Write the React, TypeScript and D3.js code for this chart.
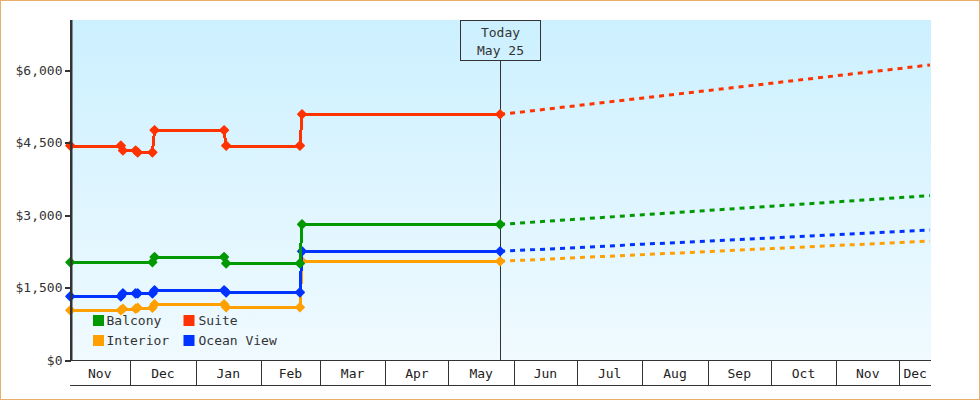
import React from 'react';
import * as d3 from 'd3';

const width = 980;
const height = 400;

const suiteDates = ['2018-11-02', '2018-11-26', '2018-11-27', '2018-12-03', '2018-12-04', '2018-12-11', '2018-12-12', '2019-01-14', '2019-01-15', '2019-02-19', '2019-02-20', '2019-05-25'];
const balconyDates = ['2018-11-02', '2018-12-11', '2018-12-12', '2019-01-14', '2019-01-15', '2019-02-19', '2019-02-20', '2019-05-25'];
const forecastDates = ['2019-05-25', '2019-06-01', '2019-07-01', '2019-08-01', '2019-09-01', '2019-10-01', '2019-11-01', '2019-12-01', '2019-12-15'];

const suiteValues = [4450, 4450, 4350, 4350, 4310, 4310, 4770, 4770, 4450, 4450, 5100, 5100];
const balconyValues = [2036, 2036, 2146, 2146, 2015, 2015, 2822, 2822];
const oceanValues = [1332, 1332, 1394, 1394, 1394, 1394, 1457, 1457, 1415, 1415, 2264, 2264];
const interiorValues = [1043, 1043, 1076, 1076, 1095, 1095, 1167, 1167, 1105, 1105, 2057, 2057];

const suiteForecast = [5100, 5130, 5281, 5437, 5592, 5743, 5899, 6048, 6120];
const balconyForecast = [2822, 2841, 2930, 3021, 3110, 3197, 3288, 3375, 3416];
const oceanForecast = [2264, 2278, 2342, 2411, 2477, 2541, 2608, 2674, 2705];
const interiorForecast = [2057, 2071, 2133, 2195, 2259, 2321, 2385, 2445, 2477];

const yTicks = [0, 1500, 3000, 4500, 6000];
const startDate = '2018-11-02';
const endDate = '2019-12-16';
const todayDate = '2019-05-25';

const font = '"DejaVu Sans Mono", monospace';
const ink = '#333333';

// axis edges sit on midnight, the marks on the middle of their day
const parseDay = (s: string) => new Date(`${s}T00:00:00Z`);
const parseMark = (s: string) => new Date(`${s}T12:00:00Z`);

const x = d3.scaleUtc().domain([parseDay(startDate), parseDay(endDate)]).range([69.2, 931]);
const y = d3.scaleLinear().domain([0, 7050]).range([360.7, 20]);

const dollars = (v: number) => (v === 0 ? '$0' : d3.format('$,')(v));

// drawn bottom to top, same order as the overlaps in the picture
const series = [
  { name: 'Interior', color: '#ffa000', dates: suiteDates, values: interiorValues, forecast: interiorForecast },
  { name: 'Ocean View', color: '#0033ff', dates: suiteDates, values: oceanValues, forecast: oceanForecast },
  { name: 'Balcony', color: '#009900', dates: balconyDates, values: balconyValues, forecast: balconyForecast },
  { name: 'Suite', color: '#ff3300', dates: suiteDates, values: suiteValues, forecast: suiteForecast },
];

const legendRows = [
  { name: 'Balcony', col: 0, row: 0 },
  { name: 'Suite', col: 1, row: 0 },
  { name: 'Interior', col: 0, row: 1 },
  { name: 'Ocean View', col: 1, row: 1 },
];

const stepLine = d3
  .line<[string, number]>()
  .x((d) => x(parseMark(d[0])))
  .y((d) => Math.round(y(d[1])) + 0.5);

const dashLine = d3
  .line<[string, number]>()
  .x((d) => x(parseMark(d[0])))
  .y((d) => y(d[1]));

const marker = d3.symbol().type(d3.symbolSquare).size(36)() as string;

const monthStarts = d3.utcMonth.range(parseDay(startDate), parseDay(endDate));
const monthEdges = [parseDay(startDate), ...monthStarts, parseDay(endDate)];

export default function App() {
  const todayX = Math.floor(x(parseMark(todayDate))) + 0.5;

  return (
    <svg
      width={width}
      height={height}
      style={{ position: 'absolute', left: 0, top: 0, background: '#fff' }}
      fontFamily={font}
      fontSize={13}
    >
      <defs>
        <linearGradient id="plotBg" x1="0" y1="0" x2="0" y2="1">
          <stop offset="0" stopColor="#ccf0ff" />
          <stop offset="1" stopColor="#f0faff" />
        </linearGradient>
      </defs>

      <rect x={0.5} y={0.5} width={979} height={399} fill="none" stroke="#e9ad6c" />
      <rect x={72} y={20} width={859} height={340} fill="url(#plotBg)" />

      {/* today marker */}
      <rect x={todayX - 40} y={20.5} width={80} height={40} fill="none" stroke={ink} shapeRendering="crispEdges" />
      <line x1={todayX} x2={todayX} y1={60} y2={360} stroke={ink} shapeRendering="crispEdges" />
      <text x={todayX} y={36.5} textAnchor="middle" fill={ink}>Today</text>
      <text x={todayX} y={55} textAnchor="middle" fill={ink}>May 25</text>

      {/* series */}
      {series.map((s) => (
        <g key={s.name}>
          <path
            d={dashLine(s.forecast.map((v, i) => [forecastDates[i], v] as [string, number])) as string}
            fill="none"
            stroke={s.color}
            strokeWidth={3}
            strokeDasharray="5,5"
          />
          <path
            d={stepLine(s.values.map((v, i) => [s.dates[i], v] as [string, number])) as string}
            fill="none"
            stroke={s.color}
            strokeWidth={3}
            shapeRendering="crispEdges"
          />
          {s.values.map((v, i) => (
            <path
              key={s.dates[i]}
              d={marker}
              transform={`translate(${x(parseMark(s.dates[i]))},${y(v)}) rotate(45)`}
              fill={s.color}
              stroke={s.color}
              strokeWidth={1.6}
              strokeLinejoin="round"
            />
          ))}
        </g>
      ))}

      {/* y axis */}
      <rect x={70} y={20} width={2.5} height={341} fill={ink} />
      {yTicks.map((t) => (
        <g key={t}>
          <rect x={65} y={Math.round(y(t)) - 1} width={6} height={2} fill={ink} />
          <text x={62.5} y={Math.round(y(t)) + 4} textAnchor="end" fill={ink}>{dollars(t)}</text>
        </g>
      ))}

      {/* month band */}
      <line x1={70} x2={931} y1={360.5} y2={360.5} stroke={ink} shapeRendering="crispEdges" />
      <line x1={70} x2={931} y1={385.5} y2={385.5} stroke={ink} shapeRendering="crispEdges" />
      {monthEdges.slice(0, -1).map((d, i) => {
        const x0 = x(d);
        const x1 = x(monthEdges[i + 1]);
        const edge = Math.floor(x0 + 0.38) + 0.5;
        return (
          <g key={d.toISOString()}>
            {i > 0 && <line x1={edge} x2={edge} y1={361} y2={385} stroke={ink} shapeRendering="crispEdges" />}
            <text x={(x0 + x1) / 2} y={378} textAnchor="middle" fill="#222">{d3.utcFormat('%b')(d)}</text>
          </g>
        );
      })}

      {/* legend */}
      {legendRows.map((l) => {
        const color = series.find((s) => s.name === l.name)?.color;
        const lx = 93 + l.col * 90.5;
        const ly = 315 + l.row * 20;
        return (
          <g key={l.name}>
            <rect x={lx} y={ly} width={11} height={11} fill={color} />
            <text x={lx + 13.5 + l.col * 1.5} y={ly + 10} fill={ink}>{l.name}</text>
          </g>
        );
      })}
    </svg>
  );
}
